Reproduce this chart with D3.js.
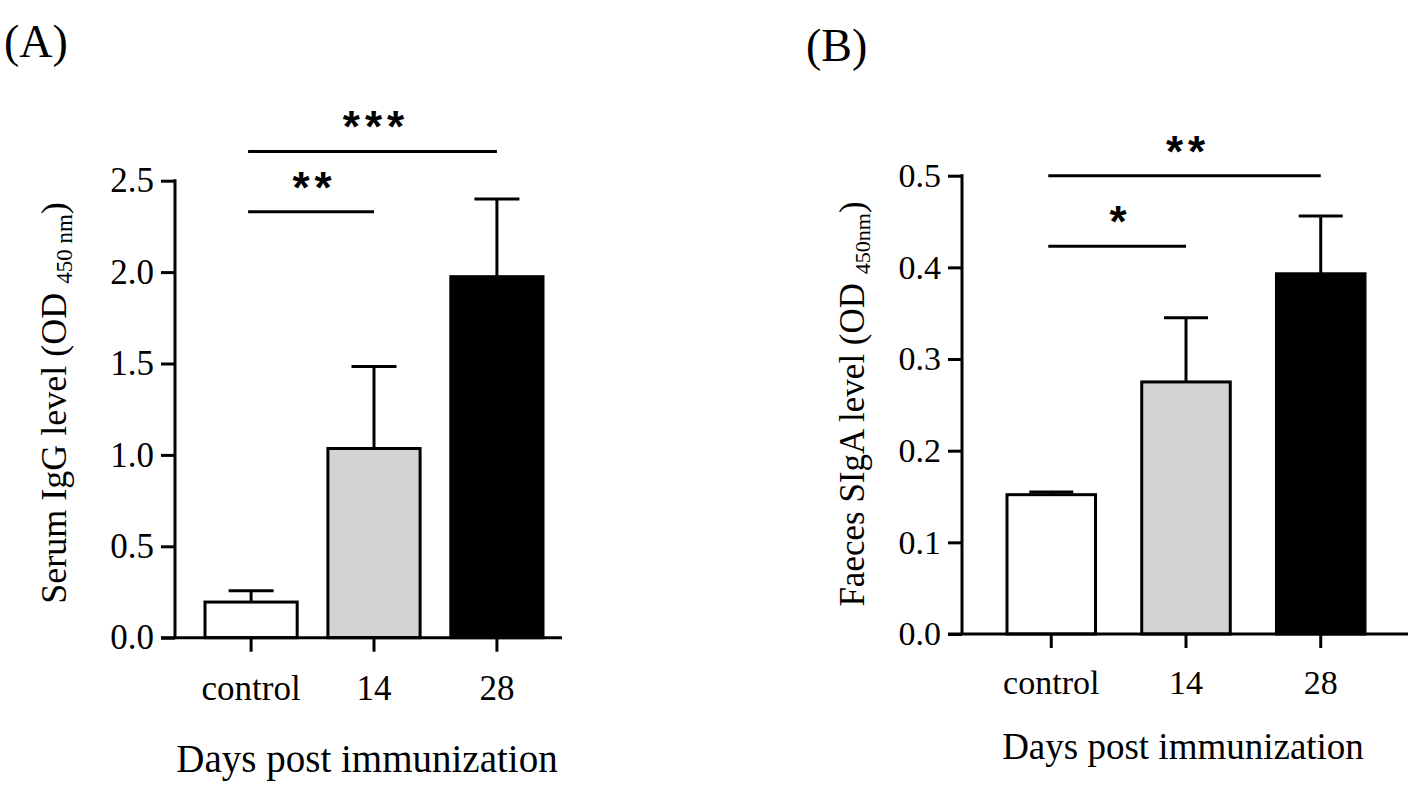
<!DOCTYPE html>
<html>
<head>
<meta charset="utf-8">
<script src="https://cdn.jsdelivr.net/npm/d3@7.9.0/dist/d3.min.js"></script>
<style>
  html, body { margin: 0; padding: 0; background: #fff; }
  svg { display: block; }
  text { font-family: "Liberation Serif", "Times New Roman", serif; fill: #000; }
  .star { font-family: "Liberation Sans", Arial, sans-serif; font-weight: bold; }
</style>
</head>
<body>
<svg id="chart" width="1418" height="788"></svg>
<script>
// groups on the x axis
const groups = ['control', '14', '28'];

// (A) serum IgG, OD 450 nm
const iggMean = [0.195, 1.035, 1.975];
const iggErr = [0.062, 0.448, 0.425];
const iggTicks = [0, 0.5, 1.0, 1.5, 2.0, 2.5];
const iggSig = [
  { from: 'control', to: '14', y: 2.33, label: '**' },
  { from: 'control', to: '28', y: 2.66, label: '***' }
];

// (B) faeces SIgA, OD 450 nm
const sigaMean = [0.152, 0.275, 0.393];
const sigaErr = [0.003, 0.070, 0.063];
const sigaTicks = [0, 0.1, 0.2, 0.3, 0.4, 0.5];
const sigaSig = [
  { from: 'control', to: '14', y: 0.423, label: '*' },
  { from: 'control', to: '28', y: 0.5, label: '**' }
];

const barFills = ['#ffffff', '#d3d3d3', '#000000'];

const svg = d3.select('#chart');

function drawPanel(opts) {
  const g = svg.append('g');
  const data = groups.map((k, i) => ({ key: k, mean: opts.mean[i], err: opts.err[i], fill: barFills[i] }));

  const x = d3.scaleBand().domain(groups)
    .range(opts.barRange).paddingInner(opts.padInner).paddingOuter(0);
  const y = d3.scaleLinear().domain([0, opts.yMax]).range([opts.y0, opts.yTop]);
  const bw = x.bandwidth();
  const cx = (k) => x(k) + bw / 2;

  // bars
  g.selectAll('rect.bar').data(data).enter().append('rect')
    .attr('class', 'bar')
    .attr('x', d => x(d.key))
    .attr('y', d => y(d.mean))
    .attr('width', bw)
    .attr('height', d => y(0) - y(d.mean))
    .attr('fill', d => d.fill)
    .attr('stroke', '#000')
    .attr('stroke-width', 3);

  // error bars (upper only)
  const eb = g.selectAll('g.err').data(data).enter().append('g').attr('class', 'err')
    .attr('stroke', '#000').attr('stroke-width', 3);
  eb.append('line')
    .attr('x1', d => cx(d.key)).attr('x2', d => cx(d.key))
    .attr('y1', d => y(d.mean)).attr('y2', d => y(d.mean + d.err));
  eb.append('line')
    .attr('x1', d => cx(d.key) - opts.cap / 2).attr('x2', d => cx(d.key) + opts.cap / 2)
    .attr('y1', d => y(d.mean + d.err)).attr('y2', d => y(d.mean + d.err));

  // y axis
  const yAxis = g.append('g').attr('transform', `translate(${opts.axisX},0)`)
    .call(d3.axisLeft(y).tickValues(opts.ticks).tickFormat(d3.format('.1f')).tickSize(14).tickPadding(7));
  yAxis.select('.domain').remove();
  yAxis.append('line').attr('x1', 0).attr('x2', 0).attr('y1', y(0)).attr('y2', opts.yTop - 1.5)
    .attr('stroke', '#000').attr('stroke-width', 3);
  yAxis.selectAll('.tick line').attr('stroke-width', 3);
  yAxis.selectAll('.tick text').attr('font-size', opts.tickFont)
    .style('font-family', '"Liberation Serif", serif');

  // x axis
  const xAxis = g.append('g').attr('transform', `translate(0,${y(0)})`)
    .call(d3.axisBottom(x).tickSize(14).tickPadding(opts.xPad));
  xAxis.select('.domain').remove();
  xAxis.append('line').attr('x1', opts.axisX - 14).attr('x2', opts.xEnd).attr('y1', 0).attr('y2', 0)
    .attr('stroke', '#000').attr('stroke-width', 3);
  xAxis.selectAll('.tick line').attr('stroke-width', 3);
  xAxis.selectAll('.tick text').attr('font-size', opts.tickFont)
    .style('font-family', '"Liberation Serif", serif');

  // significance brackets
  const sg = g.selectAll('g.sig').data(opts.sig).enter().append('g').attr('class', 'sig');
  sg.append('line')
    .attr('x1', d => cx(d.from) - 3).attr('x2', d => cx(d.to))
    .attr('y1', d => y(d.y)).attr('y2', d => y(d.y))
    .attr('stroke', '#000').attr('stroke-width', 3);
  sg.append('text')
    .attr('class', 'star')
    .attr('x', d => (cx(d.from) + cx(d.to)) / 2 + 2)
    .attr('y', d => y(d.y) - 9)
    .attr('text-anchor', 'middle')
    .attr('font-size', 44)
    .attr('letter-spacing', 5)
    .text(d => d.label);

  // y title with subscript
  const yt = g.append('text')
    .attr('transform', `translate(${opts.yLabelX},${opts.yLabelY}) rotate(-90)`)
    .attr('text-anchor', 'middle')
    .attr('font-size', opts.yLabelFont);
  yt.append('tspan').text(opts.yLabel[0]);
  yt.append('tspan').attr('font-size', opts.subFont).attr('dy', 6).text(opts.yLabel[1]);
  yt.append('tspan').attr('dy', -6).text(')');

  // x title
  g.append('text')
    .attr('x', opts.xLabelX).attr('y', opts.xLabelY)
    .attr('text-anchor', 'middle')
    .attr('font-size', opts.xLabelFont)
    .text('Days post immunization');

  // panel letter
  g.append('text')
    .attr('x', opts.tagX).attr('y', opts.tagY)
    .attr('font-size', 46)
    .text(opts.tag);
}

drawPanel({
  tag: '(A)', tagX: 4, tagY: 57,
  mean: iggMean, err: iggErr, ticks: iggTicks, sig: iggSig, yMax: 2.5,
  axisX: 175, xEnd: 562, barRange: [205, 543], padInner: 0.25,
  y0: 637.7, yTop: 180.7, cap: 45, tickFont: 35, xPad: 23,
  yLabel: ['Serum IgG level (OD ', '450 nm'], yLabelX: 66, yLabelY: 403, yLabelFont: 36, subFont: 23,
  xLabelX: 367, xLabelY: 772, xLabelFont: 39
});

drawPanel({
  tag: '(B)', tagX: 806, tagY: 61,
  mean: sigaMean, err: sigaErr, ticks: sigaTicks, sig: sigaSig, yMax: 0.5,
  axisX: 962, xEnd: 1408, barRange: [1007, 1365], padInner: 0.343,
  y0: 634, yTop: 175.7, cap: 44, tickFont: 34, xPad: 22,
  yLabel: ['Faeces SIgA level (OD ', '450nm'], yLabelX: 864, yLabelY: 404, yLabelFont: 35, subFont: 22,
  xLabelX: 1183, xLabelY: 759, xLabelFont: 37
});
</script>
</body>
</html>
